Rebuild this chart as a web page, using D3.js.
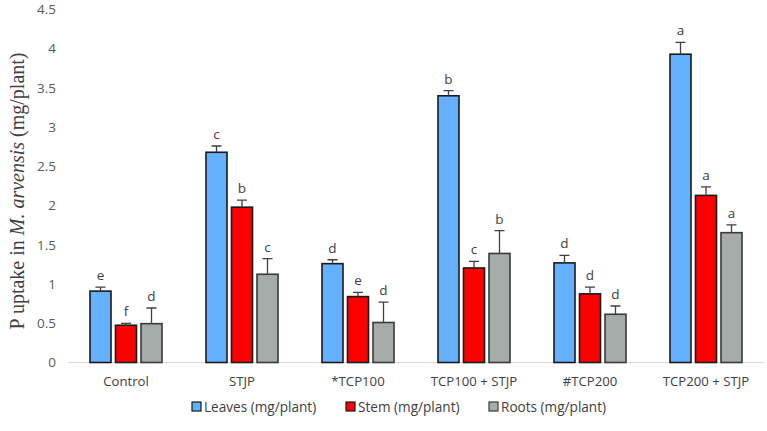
<!DOCTYPE html>
<html><head><meta charset="utf-8">
<script src="https://cdn.jsdelivr.net/npm/d3@7"></script>
<style>body{margin:0;background:#fff}svg{display:block}</style>
</head><body>
<script>
const categories = ["Control", "STJP", "*TCP100", "TCP100 + STJP", "#TCP200", "TCP200 + STJP"];
const seriesNames = ["Leaves (mg/plant)", "Stem (mg/plant)", "Roots (mg/plant)"];
const leaves = [0.91, 2.68, 1.26, 3.40, 1.27, 3.93];
const stem   = [0.475, 1.98, 0.84, 1.205, 0.875, 2.13];
const roots  = [0.495, 1.125, 0.51, 1.39, 0.615, 1.655];
const leavesErr = [0.05, 0.08, 0.05, 0.065, 0.095, 0.15];
const stemErr   = [0.025, 0.09, 0.055, 0.085, 0.085, 0.11];
const rootsErr  = [0.2, 0.2, 0.26, 0.29, 0.105, 0.1];
const leavesLetters = ["e", "c", "d", "b", "d", "a"];
const stemLetters   = ["f", "b", "e", "c", "d", "a"];
const rootsLetters  = ["d", "c", "d", "b", "d", "a"];
const yTicks = [0, 0.5, 1, 1.5, 2, 2.5, 3, 3.5, 4, 4.5];

const colors = ["#63b1fd", "#ff0000", "#a5acaa"];
const strokes = ["#1a1a1a", "#1a1a1a", "#3a3a3a"];
const values = [leaves, stem, roots];
const errs = [leavesErr, stemErr, rootsErr];
const letters = [leavesLetters, stemLetters, rootsLetters];

const W = 767, H = 431;
const svg = d3.select("body").append("svg").attr("width", W).attr("height", H);
const x = d3.scaleBand().domain(categories).range([68, 764]).paddingInner(0).paddingOuter(0);
const y = d3.scaleLinear().domain([0, 4.5]).range([362.5, 9.5]);
const bw = 21, step = 25.5;
const sans = "Open Sans, Liberation Sans, sans-serif";

// y tick labels
svg.append("g").selectAll("text").data(yTicks).join("text")
  .attr("x", 56).attr("y", d => y(d)).attr("dy", "0.35em")
  .attr("text-anchor", "end")
  .attr("font-family", sans)
  .attr("font-size", 13.5).attr("fill", "#595959")
  .text(d => d);

// baseline
svg.append("line").attr("x1", 68).attr("x2", 764).attr("y1", y(0)).attr("y2", y(0))
  .attr("stroke", "#d9d9d9").attr("stroke-width", 1.2);

// bars
values.forEach((vals, si) => {
  const g = svg.append("g");
  const cx = c => x(c) + x.bandwidth() / 2 + (si - 1) * step;
  g.selectAll("rect").data(categories).join("rect")
    .attr("x", (c) => cx(c) - bw / 2)
    .attr("y", (c, i) => y(vals[i]))
    .attr("width", bw)
    .attr("height", (c, i) => y(0) - y(vals[i]))
    .attr("fill", colors[si]).attr("stroke", strokes[si]).attr("stroke-width", 1.6);
  g.selectAll("path.err").data(categories).join("path")
    .attr("class", "err")
    .attr("d", (c, i) => {
      const xc = cx(c), t = y(vals[i] + errs[si][i]), b = y(vals[i]);
      return `M${xc},${b}V${t}M${xc - 5},${t}H${xc + 5}`;
    })
    .attr("stroke", "#404040").attr("stroke-width", 1.3).attr("fill", "none");
  g.selectAll("text").data(categories).join("text")
    .attr("x", c => cx(c))
    .attr("y", (c, i) => y(vals[i] + errs[si][i]) - 7)
    .attr("text-anchor", "middle")
    .attr("font-family", sans)
    .attr("font-size", 13.5).attr("fill", "#404040")
    .text((c, i) => letters[si][i]);
});

// x labels
svg.append("g").selectAll("text").data(categories).join("text")
  .attr("x", c => x(c) + x.bandwidth() / 2).attr("y", 385.5)
  .attr("text-anchor", "middle")
  .attr("font-family", sans)
  .attr("font-size", 13.2).attr("fill", "#404040")
  .text(c => c);

// y title
const yt = svg.append("text")
  .attr("transform", `translate(24,${(y(0) + y(4.5)) / 2 + 5}) rotate(-90)`)
  .attr("text-anchor", "middle")
  .attr("font-family", "Liberation Serif, Times New Roman, serif")
  .attr("font-size", 20).attr("fill", "#404040");
yt.append("tspan").text("P uptake in ");
yt.append("tspan").attr("font-style", "italic").text("M. arvensis");
yt.append("tspan").text(" (mg/plant)");

// legend
const legX = [192, 346, 489];
const lg = svg.append("g");
seriesNames.forEach((n, i) => {
  lg.append("rect").attr("x", legX[i]).attr("y", 402).attr("width", 9).attr("height", 9)
    .attr("fill", colors[i]).attr("stroke", strokes[i]).attr("stroke-width", 1.2);
  lg.append("text").attr("x", legX[i] + 12).attr("y", 411.5)
    .attr("font-family", sans)
    .attr("font-size", 13.6).attr("fill", "#404040").text(n);
});
</script>
</body></html>
